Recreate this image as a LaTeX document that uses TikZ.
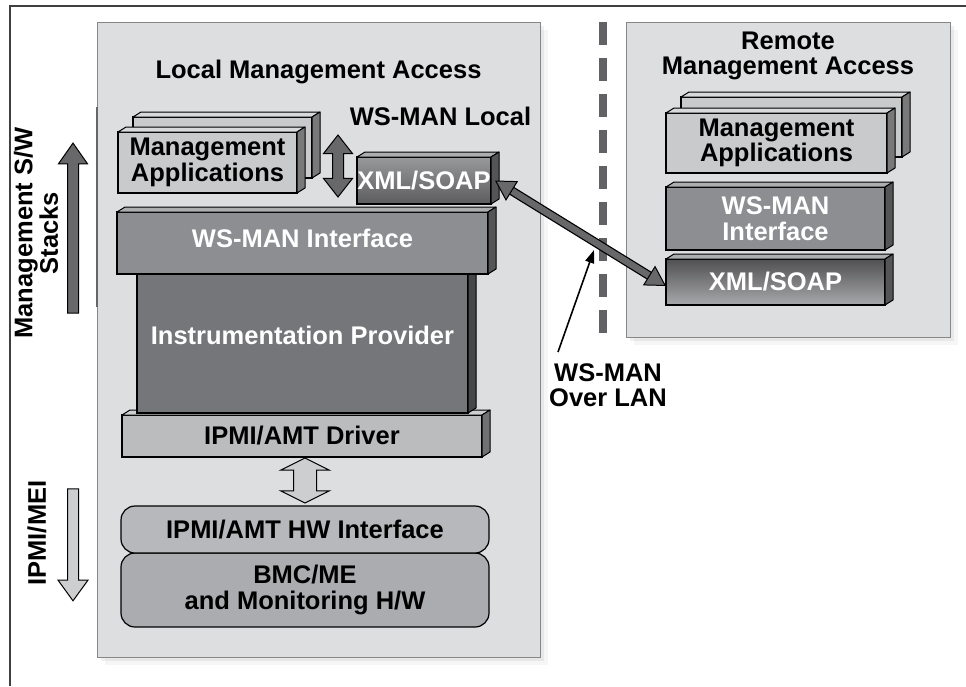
\documentclass[tikz,border=0pt]{standalone}
\usepackage{fontspec}
\setmainfont{Liberation Sans}
\usetikzlibrary{arrows.meta, positioning, shapes.arrows, shadows}

\definecolor{panelgray}{RGB}{221,222,224}
\definecolor{panelline}{RGB}{135,135,138}
\definecolor{appgray}{RGB}{201,202,204}
\definecolor{ifacegray}{RGB}{141,142,145}
\definecolor{instrgray}{RGB}{117,118,121}
\definecolor{drvgray}{RGB}{187,188,190}
\definecolor{hwgray}{RGB}{183,184,187}
\definecolor{bmcgray}{RGB}{171,172,175}
\definecolor{arrowgray}{RGB}{104,104,106}
\definecolor{hollowgray}{RGB}{205,206,208}
\definecolor{langray}{RGB}{98,98,100}
\definecolor{xmltopL}{RGB}{152,153,155}
\definecolor{xmlbotL}{RGB}{92,92,95}
\definecolor{xmltopR}{RGB}{80,80,83}
\definecolor{xmlbotR}{RGB}{168,169,171}

% top and side faces of a raised box
\newcommand{\extrude}[2]{%
  \filldraw[fill=#2!72!white, draw=black, line width=1pt, line join=round]
    (#1.north west) -- ++(8,-5) -- ([shift={(8,-5)}]#1.north east)
    -- (#1.north east) -- cycle;
  \filldraw[fill=#2!60!black, draw=black, line width=1pt, line join=round]
    (#1.north east) -- ([shift={(8,-5)}]#1.north east)
    -- ([shift={(8,-5)}]#1.south east) -- (#1.south east) -- cycle;
}

\begin{document}
\begin{tikzpicture}[x=1pt, y=-1pt,
    lbl/.style={font=\fontsize{25.5}{25.5}\selectfont\bfseries, align=center,
                inner sep=0pt},
    panel/.style={draw=panelline, line width=1pt, fill=panelgray,
                  drop shadow={shadow xshift=8pt, shadow yshift=-8pt, opacity=.07},
                  drop shadow={shadow xshift=4pt, shadow yshift=-4pt, opacity=.12}},
    slab/.style={lbl, draw=black, line width=1.2pt, outer sep=0pt},
    chip/.style={slab, rounded corners=14pt},
    blockarrow/.style={draw=black, line width=1pt, inner sep=#1, outer sep=0pt},
    bigarrow/.style={line width=6.5pt, arrowgray,
        {Triangle[length=20pt,width=23pt,color=black,fill=arrowgray,line width=1pt]}-%
        {Triangle[length=20pt,width=23pt,color=black,fill=arrowgray,line width=1pt]}},
]
\useasboundingbox (0,0) rectangle (966,686);
\draw[black!75, line width=1.5pt] (966,6) -- (10,6) -- (10,686);

% panels and LAN border
\node[panel, minimum width=443, minimum height=635] (localp) at (318.5,339.5) {};
\node[panel, minimum width=324, minimum height=315] (remotep) at (788,179.5) {};
\draw[black!60, line width=2.5pt] (97,107) -- (97,307);
\draw[langray, line width=8pt, dash pattern=on 23pt off 13pt] (603,22) -- (603,336);

\node[lbl, anchor=base] (localt) at (318.5,78) {Local Management Access};
\node[lbl, anchor=base] (wsloc) at (440.5,125) {WS-MAN Local};
\node[lbl] (remotet) at (788,56) {Remote\\Management Access};

% local stack
\node[slab, fill=appgray, minimum width=179, minimum height=61] (appLb) at (222.5,147.5) {};
\extrude{appLb}{appgray}
\node[slab, fill=appgray, minimum width=179, minimum height=61] (appL) at (207.5,162.5) {Management\\Applications};
\extrude{appL}{appgray}
\node[slab, text=white, top color=xmltopL, bottom color=xmlbotL,
      minimum width=134, minimum height=47] (xmlL) at (424,180.5) {XML/SOAP};
\extrude{xmlL}{ifacegray}
\node[slab, fill=drvgray, minimum width=360, minimum height=42] (drv) at (302,436) {IPMI/AMT Driver};
\extrude{drv}{drvgray}
\node[slab, text=white, fill=instrgray, text depth=16pt,
      minimum width=331, minimum height=139] (instr) at (302.5,343.5) {Instrumentation Provider};
\extrude{instr}{instrgray}
\node[slab, text=white, fill=ifacegray, text depth=10pt,
      minimum width=371, minimum height=62] (ifaceL) at (302.5,243) {WS-MAN Interface};
\extrude{ifaceL}{ifacegray}
\node[chip, fill=bmcgray, minimum width=368, minimum height=74] (bmc) at (305,590) {BMC/ME\\and Monitoring H/W};
\node[chip, fill=hwgray, minimum width=368, minimum height=47] (hwif) at (305,529.5) {IPMI/AMT HW Interface};

% remote stack
\node[slab, fill=appgray, minimum width=221, minimum height=60] (appRb) at (791.5,127) {};
\extrude{appRb}{appgray}
\node[slab, fill=appgray, minimum width=221, minimum height=60] (appR) at (776.5,143) {Management\\Applications};
\extrude{appR}{appgray}
\node[slab, text=white, fill=ifacegray, minimum width=219, minimum height=63] (ifaceR) at (775.5,218.5) {WS-MAN\\Interface};
\extrude{ifaceR}{ifacegray}
\node[slab, text=white, top color=xmltopR, bottom color=xmlbotR,
      minimum width=219, minimum height=46] (xmlR) at (775.5,282) {XML/SOAP};
\extrude{xmlR}{ifacegray}

% block arrows
\node[blockarrow=5pt, double arrow, fill=arrowgray, rotate=90, minimum height=62,
      double arrow head extend=9pt, double arrow tip angle=76] (linkL) at (338,166) {};
\node[blockarrow=11pt, double arrow, fill=hollowgray, rotate=90, minimum height=45,
      double arrow head extend=13pt, double arrow tip angle=127] (hwlink) at (305,480.5) {};
\node[blockarrow=5pt, single arrow, fill=arrowgray, rotate=90, minimum height=170,
      single arrow head extend=9pt, single arrow tip angle=70] (swup) at (73,232) {};
\node[blockarrow=5pt, single arrow, fill=hollowgray, rotate=-90, minimum height=112,
      single arrow head extend=9.5pt, single arrow tip angle=72] (hwdown) at (73,541) {};

\node[lbl, rotate=90] (swlbl) at (36,233) {Management S/W\\Stacks};
\node[lbl, rotate=90] (ipmilbl) at (37,533) {IPMI/MEI};

% WS-MAN over LAN
\draw[line width=9pt, shorten <=10pt, shorten >=10pt]
  ([xshift=4pt]xmlL.east) -- ([yshift=-4pt]xmlR.west);
\draw[bigarrow] ([xshift=4pt]xmlL.east) -- ([yshift=-4pt]xmlR.west);

\node[lbl] (lanlbl) at (608,385) {WS-MAN\\Over LAN};
\coordinate (lanhit) at (594,250);
\draw[line width=1.6pt, -{Triangle[length=13pt,width=9pt]}]
  ([xshift=9pt,yshift=11pt]lanlbl.north west) -- (lanhit);
\end{tikzpicture}
\end{document}
